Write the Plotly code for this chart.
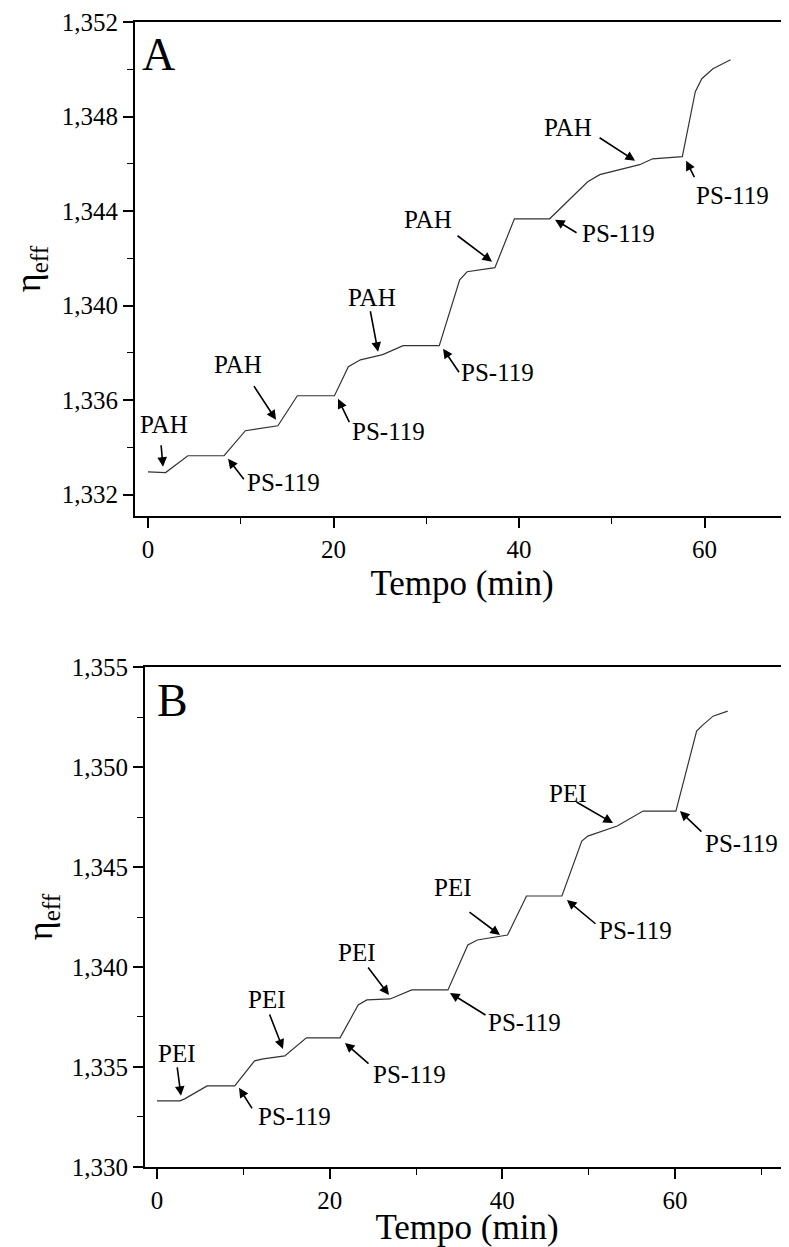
import plotly.graph_objects as go

# ---------------- data ----------------
# Panel A (PAH / PS-119)
tA = [0, 1.9, 4.3, 8.2, 10.5, 14.0, 16.1, 20.1, 21.6, 22.9, 25.3, 27.5, 31.4,
      33.6, 34.4, 37.4, 39.5, 43.3, 47.4, 48.7, 53.0, 54.4, 57.6, 59.0, 59.7,
      60.9, 62.8]
nA = [1.33297, 1.33294, 1.33365, 1.33365, 1.33471, 1.33492, 1.33619, 1.33619,
      1.33742, 1.33771, 1.33793, 1.33831, 1.33831, 1.34110, 1.34144, 1.34161,
      1.34368, 1.34368, 1.34525, 1.34555, 1.34597, 1.34622, 1.34631, 1.34906,
      1.34961, 1.35003, 1.35041]

# Panel B (PEI / PS-119)
tB = [0, 2.66, 3.2, 5.8, 9.0, 11.3, 12.3, 14.8, 17.3, 21.2, 23.3, 24.3, 27.0,
      28.1, 29.5, 33.7, 36.0, 37.1, 40.6, 42.8, 46.9, 49.2, 49.9, 53.3, 56.3,
      60.1, 62.5, 63.2, 64.4, 66.1]
nB = [1.3333, 1.3333, 1.3334, 1.33405, 1.33405, 1.3353, 1.3354, 1.33555,
      1.33645, 1.33645, 1.3381, 1.33835, 1.3384, 1.3386, 1.33885, 1.33885,
      1.3411, 1.34135, 1.3416, 1.34355, 1.34355, 1.3463, 1.34655, 1.34705,
      1.3478, 1.3478, 1.3518, 1.3521, 1.35255, 1.3528]

# annotation labels: (text, label x, label y, arrow tail x, tail y, tip x, tip y)
labelsA = [
    ("PAH",    1.73, 1.33496,  1.40, 1.33416,  1.62, 1.33318),
    ("PAH",    9.70, 1.33750, 11.32, 1.33666, 13.80, 1.33517),
    ("PS-119", 14.66, 1.33251, 10.46, 1.33259,  8.63, 1.33352),
    ("PAH",   24.15, 1.34034, 23.94, 1.33983, 24.80, 1.33805),
    ("PS-119", 25.98, 1.33467, 21.78, 1.33501, 20.49, 1.33606),
    ("PS-119", 37.63, 1.33716, 33.64, 1.33712, 31.81, 1.33818),
    ("PAH",   30.19, 1.34364, 33.21, 1.34301, 37.09, 1.34186),
    ("PS-119", 50.67, 1.34305, 46.36, 1.34305, 43.88, 1.34364),
    ("PAH",   45.28, 1.34753, 48.52, 1.34715, 52.51, 1.34614),
    ("PS-119", 62.97, 1.34466, 58.98, 1.34538, 58.01, 1.34614),
]
labelsB = [
    ("PEI",    2.32, 1.33565,  2.32, 1.33505,  2.78, 1.33355),
    ("PS-119", 15.87, 1.33250, 11.12, 1.33285,  9.50, 1.33395),
    ("PEI",   12.74, 1.33835, 12.97, 1.33770, 14.59, 1.33590),
    ("PEI",   23.16, 1.34070, 24.32, 1.34005, 26.87, 1.33860),
    ("PS-119", 29.30, 1.33460, 24.67, 1.33510, 21.77, 1.33620),
    ("PS-119", 42.62, 1.33720, 38.22, 1.33755, 33.93, 1.33870),
    ("PEI",   34.28, 1.34400, 36.02, 1.34280, 39.72, 1.34160),
    ("PS-119", 55.47, 1.34180, 50.96, 1.34210, 47.48, 1.34335),
    ("PEI",   47.60, 1.34870, 48.41, 1.34830, 52.81, 1.34720),
    ("PS-119", 67.75, 1.34620, 63.23, 1.34670, 60.57, 1.34780),
]

FONT = "Liberation Serif"
OFF = 8            # page body margin offset
W, H = 789 - OFF, 1247 - OFF


def fx(p):
    return (p - OFF) / W


def fy(p):
    return 1 - (p - OFF) / H


fig = go.Figure()
fig.add_trace(go.Scatter(x=tA, y=nA, mode="lines", xaxis="x", yaxis="y",
                         line=dict(color="#333333", width=1.2), showlegend=False))
fig.add_trace(go.Scatter(x=tB, y=nB, mode="lines", xaxis="x2", yaxis="y2",
                         line=dict(color="#333333", width=1.2), showlegend=False))

annots = []
for labels, xr, yr in ((labelsA, "x", "y"), (labelsB, "x2", "y2")):
    for txt, lx, ly, axx, ayy, tx, ty in labels:
        annots.append(dict(text=txt, x=lx, y=ly, xref=xr, yref=yr, showarrow=False,
                           font=dict(family=FONT, size=25, color="black")))
        annots.append(dict(text="", x=tx, y=ty, xref=xr, yref=yr, showarrow=True,
                           ax=axx, ay=ayy, axref=xr, ayref=yr,
                           arrowhead=2, arrowsize=1.2, arrowwidth=1.6,
                           arrowcolor="black", standoff=0, startstandoff=0))

annots.append(dict(text="A", x=1.08, y=1.35062, xref="x", yref="y", showarrow=False,
                   font=dict(family=FONT, size=46, color="black")))
annots.append(dict(text="B", x=1.74, y=1.35335, xref="x2", yref="y2", showarrow=False,
                   font=dict(family=FONT, size=46, color="black")))


def xax(domain, rng, anchor, standoff):
    return dict(domain=domain, range=rng, anchor=anchor, showgrid=False, zeroline=False,
                automargin=False, ticklabeloverflow="allow",
                showline=True, linecolor="black", linewidth=2, mirror=True,
                ticks="outside", ticklen=10, tickwidth=1.6, tickcolor="black",
                tick0=0, dtick=20,
                minor=dict(dtick=10, tick0=0, ticks="outside", ticklen=6,
                           tickwidth=1.4, tickcolor="black"),
                tickfont=dict(family=FONT, size=25, color="black"),
                title=dict(text="Tempo (min)", standoff=standoff,
                           font=dict(family=FONT, size=35, color="black")))


def yax(domain, rng, anchor, tick0, dtick, standoff):
    return dict(domain=domain, range=rng, anchor=anchor, showgrid=False, zeroline=False,
                automargin=False, ticklabeloverflow="allow",
                showline=True, linecolor="black", linewidth=2,
                ticks="outside", ticklen=10, tickwidth=1.6, tickcolor="black",
                tick0=tick0, dtick=dtick, tickformat=".3f",
                minor=dict(dtick=dtick / 2, tick0=tick0, ticks="outside", ticklen=6,
                           tickwidth=1.4, tickcolor="black"),
                tickfont=dict(family=FONT, size=25, color="black"),
                title=dict(text="η<sub>eff</sub>", standoff=standoff,
                           font=dict(family=FONT, size=36, color="black")))


fig.update_layout(
    width=W, height=H,
    margin=dict(l=0, r=0, t=0, b=0),
    paper_bgcolor="white", plot_bgcolor="white",
    separators=",.",
    showlegend=False,
    xaxis=xax([fx(135), 1.0], [-1.4, 69.1], "y", 8),
    yaxis=yax([fy(516), fy(22)], [1.3311, 1.35201], "x", 1.332, 0.004, 11),
    xaxis2=xax([fx(145), 1.0], [-1.39, 73.2], "y2", 5),
    yaxis2=yax([fy(1167), fy(667)], [1.32999, 1.35501], "x2", 1.330, 0.005, 8),
    annotations=annots,
)

fig.write_html("out.html")
